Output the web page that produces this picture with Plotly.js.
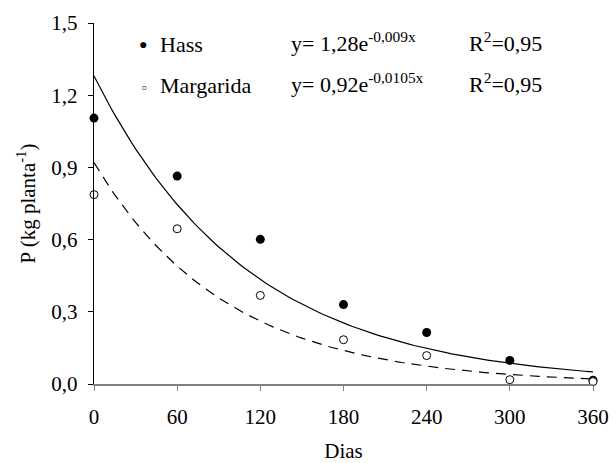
<!DOCTYPE html>
<html>
<head>
<meta charset="utf-8">
<script src="https://cdn.plot.ly/plotly-3.0.1.min.js"></script>
<style>
html,body{margin:0;padding:0;background:#fff;}
#chart{width:616px;height:463px;}
#chart text, #chart tspan { font-family: 'Liberation Serif', 'Times New Roman', serif !important; }
</style>
</head>
<body>
<div id="chart"></div>
<script>
// Data
const dias = [0, 60, 120, 180, 240, 300, 360];
const hass = [1.105, 0.864, 0.601, 0.330, 0.214, 0.098, 0.016];
const margarida = [0.787, 0.645, 0.368, 0.184, 0.118, 0.018, 0.010];
const yTicks = [0, 0.3, 0.6, 0.9, 1.2, 1.5];
// Fitted model coefficients shown in the chart
const hassA = 1.28, hassK = -0.009;
const margA = 0.92, margK = -0.0105;
const hassLabel = 'Hass', margLabel = 'Margarida';
const hassEq = 'y= 1,28e<sup>-0,009x</sup>', margEq = 'y= 0,92e<sup>-0,0105x</sup>';
const r2Text = 'R<sup>2</sup>=0,95';

(function () {
  const FONT = 'Liberation Serif';
  const curveX = [];
  for (let x = 0; x <= 360; x += 3) curveX.push(x);
  const hassFit = curveX.map(x => hassA * Math.exp(hassK * x));
  const margFit = curveX.map(x => margA * Math.exp(margK * x));

  const left = 94, plotW = 499, top = 23, plotH = 361;
  const toPx = x => (x - left) / plotW;
  const toPy = y => (top + plotH - y) / plotH;

  const traces = [
    {x: curveX, y: hassFit, mode: 'lines', line: {color: '#000', width: 1.2}, hoverinfo: 'skip'},
    {x: curveX, y: margFit, mode: 'lines', line: {color: '#000', width: 1.2, dash: '10px,7px'}, hoverinfo: 'skip'},
    {x: dias, y: hass, mode: 'markers', cliponaxis: false,
     marker: {symbol: 'circle', size: 9, color: '#000'}},
    {x: dias, y: margarida, mode: 'markers', cliponaxis: false,
     marker: {symbol: 'circle', size: 8, color: '#fff', line: {color: '#000', width: 1}}}
  ];

  const ann = (x, y, text, size) => ({xref: 'paper', yref: 'paper', x: toPx(x), y: toPy(y),
    xanchor: 'left', yanchor: 'middle', text: text, showarrow: false,
    font: {family: FONT, size: size, color: '#000'}});

  const layout = {
    width: 616, height: 463,
    margin: {l: 94, r: 23, t: 23, b: 79},
    paper_bgcolor: '#fff', plot_bgcolor: '#fff',
    separators: ', ',
    font: {family: FONT, size: 21, color: '#000'},
    showlegend: false,
    xaxis: {
      range: [0, 360], tickvals: dias, ticks: 'outside', ticklen: 5, tickwidth: 1, tickcolor: '#808080',
      showline: true, linecolor: '#808080', linewidth: 2, showgrid: false, zeroline: false,
      tickfont: {family: FONT, size: 21, color: '#000'}, ticklabelstandoff: 8,
      title: {text: 'Dias', font: {family: FONT, size: 21, color: '#000'}, standoff: 18}
    },
    yaxis: {
      range: [0, 1.5], tickvals: yTicks, tickformat: '.1f', ticks: 'outside', ticklen: 5, tickwidth: 1, tickcolor: '#000',
      showline: true, linecolor: '#000', linewidth: 1.2, showgrid: false, zeroline: false,
      tickfont: {family: FONT, size: 21, color: '#000'}, ticklabelstandoff: 6,
      title: {text: 'P (kg planta<sup>-1</sup>)', font: {family: FONT, size: 21, color: '#000'}, standoff: 10}
    },
    annotations: [
      ann(137, 44, '●', 14),
      ann(139, 88, '○', 10),
      ann(158, 44, hassLabel, 22),
      ann(158, 85, margLabel, 22),
      ann(289, 42, hassEq, 22),
      ann(289, 83, margEq, 22),
      ann(467, 42, r2Text, 22),
      ann(467, 83, r2Text, 22)
    ]
  };

  Plotly.newPlot('chart', traces, layout, {displayModeBar: false, staticPlot: true});
})();
</script>
</body>
</html>
